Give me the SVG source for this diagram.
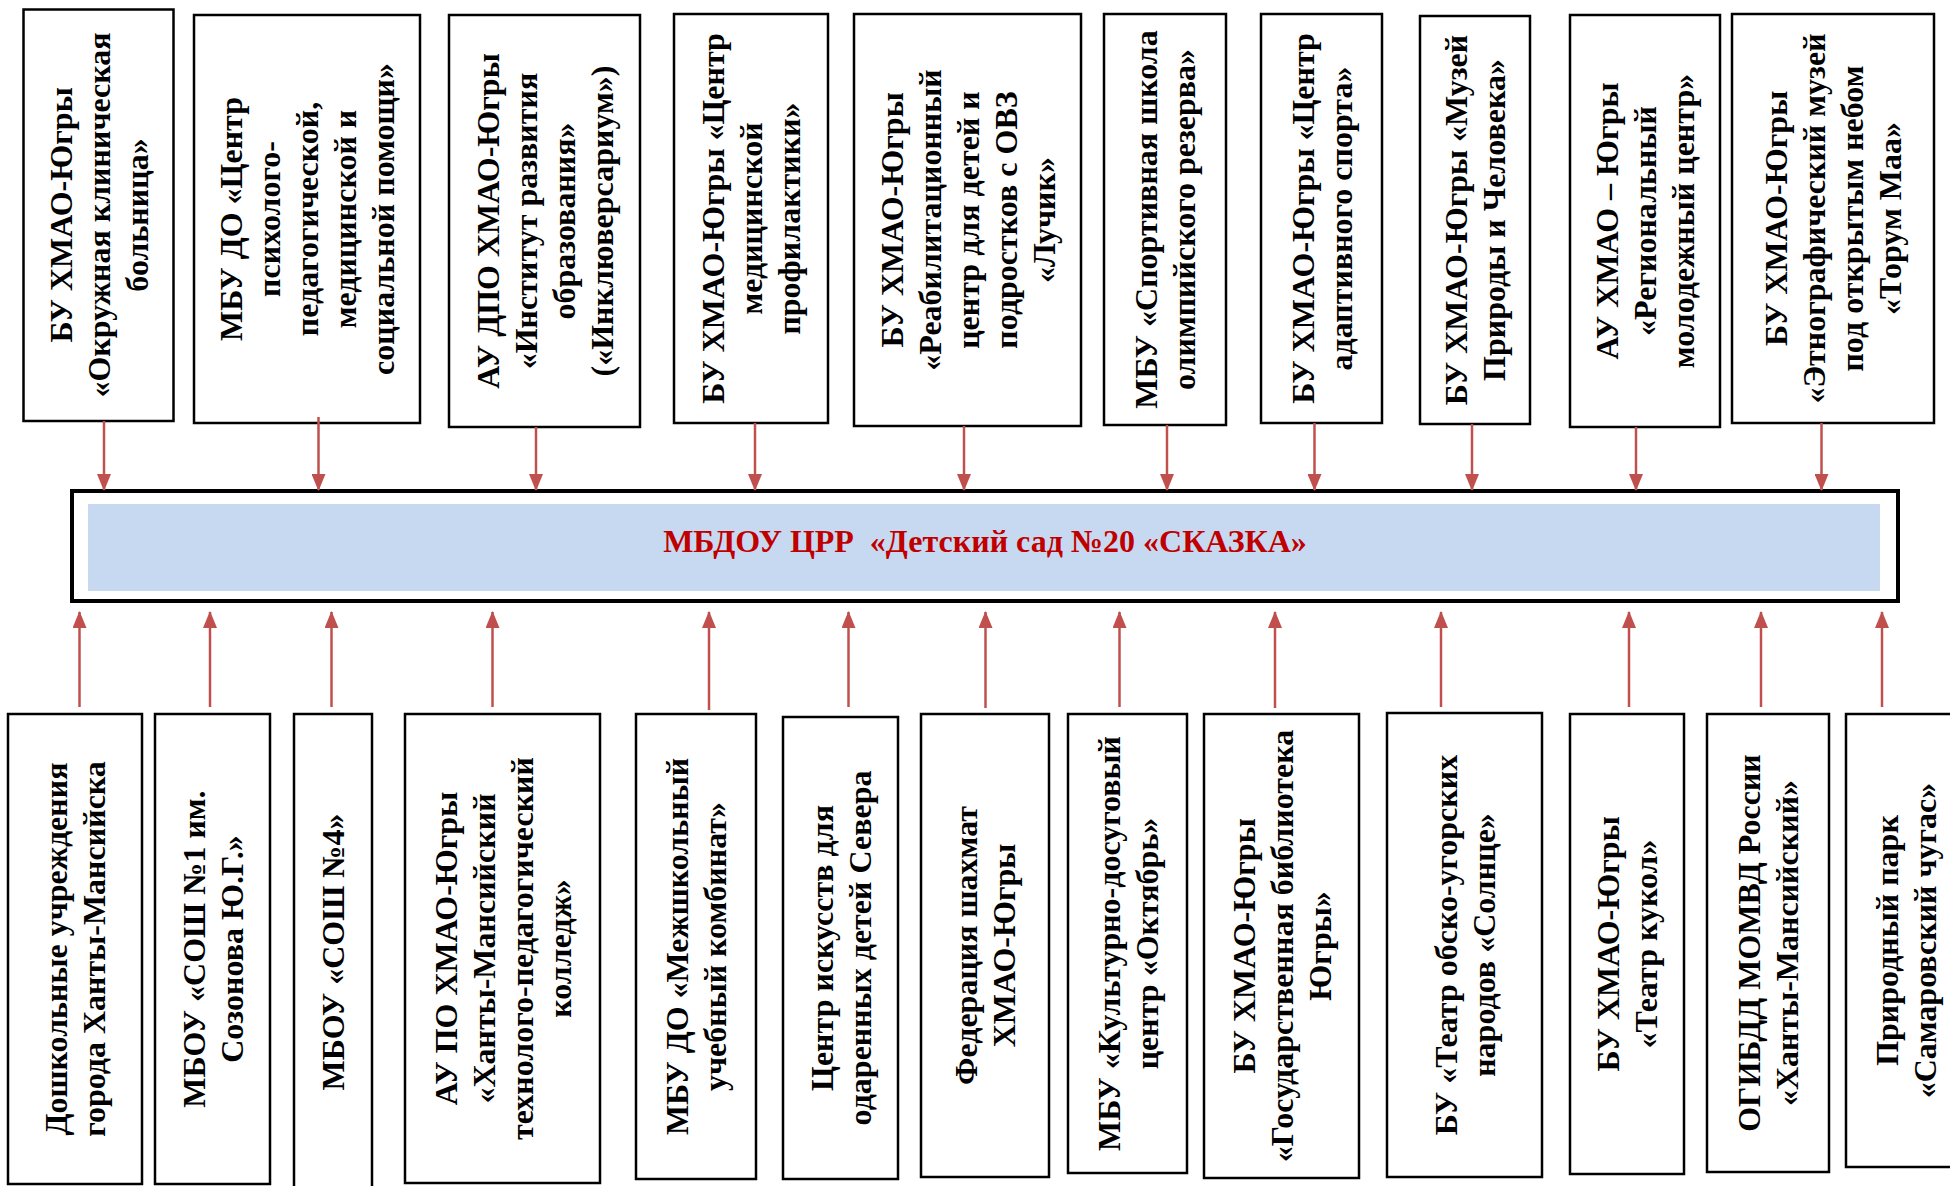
<svg xmlns="http://www.w3.org/2000/svg" width="1950" height="1186" viewBox="0 0 1950 1186">
<style>
.box{fill:#fff;stroke:#000;stroke-width:2.5}
.t{font-family:"Liberation Serif","Times New Roman",serif;font-weight:bold;font-size:32px;text-anchor:middle;fill:#000}
.title{font-family:"Liberation Serif","Times New Roman",serif;font-weight:bold;font-size:32px;text-anchor:middle;fill:#C00000}
.arr{stroke:#C0504D;stroke-width:2.5;fill:none;marker-end:url(#ah)}
</style>
<defs>
<marker id="ah" viewBox="0 0 17 14" refX="16" refY="7" markerWidth="17" markerHeight="14" orient="auto" markerUnits="userSpaceOnUse">
<path d="M0,0 L17,7 L0,14 Z" fill="#C0504D"/>
</marker>
</defs>
<rect width="1950" height="1186" fill="#fff"/>

<g id="main">
<rect x="72" y="491" width="1826" height="110" fill="#fff" stroke="#000" stroke-width="4"/>
<rect x="88" y="504" width="1792" height="87" fill="#C6D9F1"/>
<text class="title" x="985" y="552" xml:space="preserve">МБДОУ ЦРР  «Детский сад №20 «СКАЗКА»</text>
</g>

<g id="t1"><rect class="box" x="23.5" y="9.5" width="150" height="411.5"/>
<text class="t" transform="translate(98.5,215) rotate(-90)"><tspan x="0" y="-27">БУ ХМАО-Югры</tspan><tspan x="0" y="11">«Окружная клиническая</tspan><tspan x="0" y="49">больница»</tspan></text></g>

<g id="t2"><rect class="box" x="194" y="15" width="226" height="408"/>
<text class="t" transform="translate(307,219) rotate(-90)"><tspan x="0" y="-65">МБУ ДО «Центр</tspan><tspan x="0" y="-27">психолого-</tspan><tspan x="0" y="11">педагогической,</tspan><tspan x="0" y="49">медицинской и</tspan><tspan x="0" y="87">социальной помощи»</tspan></text></g>

<g id="t3"><rect class="box" x="449" y="15" width="191" height="412"/>
<text class="t" transform="translate(544.5,221) rotate(-90)"><tspan x="0" y="-46">АУ ДПО ХМАО-Югры</tspan><tspan x="0" y="-8">«Институт развития</tspan><tspan x="0" y="30">образования»</tspan><tspan x="0" y="68">(«Инклюверсариум»)</tspan></text></g>

<g id="t4"><rect class="box" x="674" y="14" width="154" height="409"/>
<text class="t" transform="translate(751,218.5) rotate(-90)"><tspan x="0" y="-27">БУ ХМАО-Югры «Центр</tspan><tspan x="0" y="11">медицинской</tspan><tspan x="0" y="49">профилактики»</tspan></text></g>

<g id="t5"><rect class="box" x="854" y="14" width="227" height="412"/>
<text class="t" transform="translate(967.5,220) rotate(-90)"><tspan x="0" y="-65">БУ ХМАО-Югры</tspan><tspan x="0" y="-27">«Реабилитационный</tspan><tspan x="0" y="11">центр для детей и</tspan><tspan x="0" y="49">подростков с ОВЗ</tspan><tspan x="0" y="87">«Лучик»</tspan></text></g>

<g id="t6"><rect class="box" x="1104" y="14" width="122" height="411"/>
<text class="t" transform="translate(1165,219.5) rotate(-90)"><tspan x="0" y="-8">МБУ «Спортивная школа</tspan><tspan x="0" y="30">олимпийского резерва»</tspan></text></g>

<g id="t7"><rect class="box" x="1261" y="14" width="121" height="409"/>
<text class="t" transform="translate(1321.5,218.5) rotate(-90)"><tspan x="0" y="-8">БУ ХМАО-Югры «Центр</tspan><tspan x="0" y="30">адаптивного спорта»</tspan></text></g>

<g id="t8"><rect class="box" x="1420" y="16" width="110" height="408"/>
<text class="t" transform="translate(1475,220) rotate(-90)"><tspan x="0" y="-8">БУ ХМАО-Югры «Музей</tspan><tspan x="0" y="30">Природы и Человека»</tspan></text></g>

<g id="t9"><rect class="box" x="1570" y="15" width="150" height="412"/>
<text class="t" transform="translate(1645,221) rotate(-90)"><tspan x="0" y="-27">АУ ХМАО – Югры</tspan><tspan x="0" y="11">«Региональный</tspan><tspan x="0" y="49">молодежный центр»</tspan></text></g>

<g id="t10"><rect class="box" x="1732" y="14" width="202" height="409"/>
<text class="t" transform="translate(1833,218.5) rotate(-90)"><tspan x="0" y="-46">БУ ХМАО-Югры</tspan><tspan x="0" y="-8">«Этнографический музей</tspan><tspan x="0" y="30">под открытым небом</tspan><tspan x="0" y="68">«Торум Маа»</tspan></text></g>

<g id="b1"><rect class="box" x="8" y="714" width="134" height="470"/>
<text class="t" transform="translate(75,949) rotate(-90)"><tspan x="0" y="-8">Дошкольные учреждения</tspan><tspan x="0" y="30">города Ханты-Мансийска</tspan></text></g>

<g id="b2"><rect class="box" x="155" y="714" width="115" height="470"/>
<text class="t" transform="translate(212.5,949) rotate(-90)"><tspan x="0" y="-8">МБОУ «СОШ №1 им.</tspan><tspan x="0" y="30">Созонова Ю.Г.»</tspan></text></g>

<g id="b3"><rect class="box" x="294" y="714" width="78" height="480"/>
<text class="t" transform="translate(333,952) rotate(-90)"><tspan x="0" y="11">МБОУ «СОШ №4»</tspan></text></g>

<g id="b4"><rect class="box" x="405" y="714" width="195" height="469"/>
<text class="t" transform="translate(502.5,948.5) rotate(-90)"><tspan x="0" y="-46">АУ ПО ХМАО-Югры</tspan><tspan x="0" y="-8">«Ханты-Мансийский</tspan><tspan x="0" y="30">технолого-педагогический</tspan><tspan x="0" y="68">колледж»</tspan></text></g>

<g id="b5"><rect class="box" x="636" y="714" width="120" height="465"/>
<text class="t" transform="translate(696,946.5) rotate(-90)"><tspan x="0" y="-8">МБУ ДО «Межшкольный</tspan><tspan x="0" y="30">учебный комбинат»</tspan></text></g>

<g id="b6"><rect class="box" x="783" y="717" width="115" height="462"/>
<text class="t" transform="translate(840.5,948) rotate(-90)"><tspan x="0" y="-8">Центр искусств для</tspan><tspan x="0" y="30">одаренных детей Севера</tspan></text></g>

<g id="b7"><rect class="box" x="921" y="714" width="128" height="463"/>
<text class="t" transform="translate(985,945.5) rotate(-90)"><tspan x="0" y="-8">Федерация шахмат</tspan><tspan x="0" y="30">ХМАО-Югры</tspan></text></g>

<g id="b8"><rect class="box" x="1068" y="714" width="119" height="459"/>
<text class="t" transform="translate(1127.5,943.5) rotate(-90)"><tspan x="0" y="-8">МБУ «Культурно-досуговый</tspan><tspan x="0" y="30">центр «Октябрь»</tspan></text></g>

<g id="b9"><rect class="box" x="1204" y="714" width="155" height="464"/>
<text class="t" transform="translate(1281.5,946) rotate(-90)"><tspan x="0" y="-27">БУ ХМАО-Югры</tspan><tspan x="0" y="11">«Государственная библиотека</tspan><tspan x="0" y="49">Югры»</tspan></text></g>

<g id="b10"><rect class="box" x="1387" y="713" width="155" height="464"/>
<text class="t" transform="translate(1464.5,945) rotate(-90)"><tspan x="0" y="-8">БУ «Театр обско-угорских</tspan><tspan x="0" y="30">народов «Солнце»</tspan></text></g>

<g id="b11"><rect class="box" x="1570" y="714" width="114" height="460"/>
<text class="t" transform="translate(1627,944) rotate(-90)"><tspan x="0" y="-8">БУ ХМАО-Югры</tspan><tspan x="0" y="30">«Театр кукол»</tspan></text></g>

<g id="b12"><rect class="box" x="1707" y="714" width="122" height="458"/>
<text class="t" transform="translate(1768,943) rotate(-90)"><tspan x="0" y="-8">ОГИБДД МОМВД России</tspan><tspan x="0" y="30">«Ханты-Мансийский»</tspan></text></g>

<g id="b13"><rect class="box" x="1846" y="714" width="124" height="453"/>
<text class="t" transform="translate(1906,940.5) rotate(-90)"><tspan x="0" y="-8">Природный парк</tspan><tspan x="0" y="30">«Самаровский чугас»</tspan></text></g>

<g id="connectors">
<line class="arr" x1="104" y1="421" x2="104" y2="490"/>
<line class="arr" x1="318.5" y1="417" x2="318.5" y2="490"/>
<line class="arr" x1="536" y1="427" x2="536" y2="490"/>
<line class="arr" x1="755" y1="423" x2="755" y2="490"/>
<line class="arr" x1="964" y1="426" x2="964" y2="490"/>
<line class="arr" x1="1167" y1="425" x2="1167" y2="490"/>
<line class="arr" x1="1314.5" y1="423" x2="1314.5" y2="490"/>
<line class="arr" x1="1472" y1="424" x2="1472" y2="490"/>
<line class="arr" x1="1636" y1="427" x2="1636" y2="490"/>
<line class="arr" x1="1821.5" y1="423" x2="1821.5" y2="490"/>
<line class="arr" x1="79.5" y1="707" x2="79.5" y2="612"/>
<line class="arr" x1="210" y1="707" x2="210" y2="612"/>
<line class="arr" x1="331.5" y1="707" x2="331.5" y2="612"/>
<line class="arr" x1="492.5" y1="707" x2="492.5" y2="612"/>
<line class="arr" x1="709" y1="710" x2="709" y2="612"/>
<line class="arr" x1="848.5" y1="707" x2="848.5" y2="612"/>
<line class="arr" x1="985.5" y1="708" x2="985.5" y2="612"/>
<line class="arr" x1="1119.5" y1="707" x2="1119.5" y2="612"/>
<line class="arr" x1="1275" y1="708" x2="1275" y2="612"/>
<line class="arr" x1="1441" y1="707" x2="1441" y2="612"/>
<line class="arr" x1="1629" y1="707" x2="1629" y2="612"/>
<line class="arr" x1="1761" y1="707" x2="1761" y2="612"/>
<line class="arr" x1="1882" y1="707" x2="1882" y2="612"/>
</g>
</svg>
